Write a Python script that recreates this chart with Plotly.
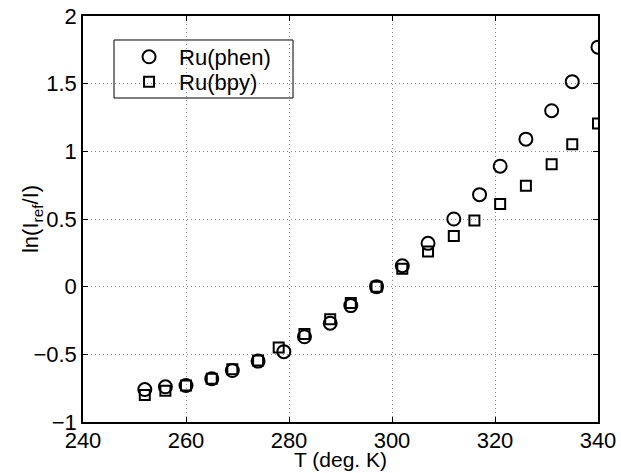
import plotly.graph_objects as go

# Data
T_phen = [252, 256, 260, 265, 269, 274, 279, 283, 288, 292, 297, 302, 307, 312, 317, 321, 326, 331, 335, 340]
ln_phen = [-0.76, -0.74, -0.73, -0.68, -0.62, -0.55, -0.48, -0.37, -0.27, -0.14, 0.0, 0.155, 0.32, 0.50, 0.68, 0.89, 1.09, 1.30, 1.515, 1.77]

T_bpy = [252, 256, 260, 265, 269, 274, 278, 283, 288, 292, 297, 302, 307, 312, 316, 321, 326, 331, 335, 340]
ln_bpy = [-0.80, -0.77, -0.73, -0.68, -0.61, -0.545, -0.45, -0.35, -0.24, -0.12, 0.0, 0.133, 0.26, 0.374, 0.488, 0.61, 0.746, 0.904, 1.052, 1.205]

x_ticks = [240, 260, 280, 300, 320, 340]
y_ticks = [-1, -0.5, 0, 0.5, 1, 1.5, 2]
y_tick_text = ["\u22121", "\u22120.5", "0", "0.5", "1", "1.5", "2"]

FONT = "Liberation Sans, Arial, sans-serif"
FS = 22

fig = go.Figure()
fig.add_trace(go.Scatter(
    x=T_phen, y=ln_phen, mode="markers", name="Ru(phen)", legend="legend",
    marker=dict(symbol="circle-open", size=13, color="black", line=dict(width=2, color="black")),
))
fig.add_trace(go.Scatter(
    x=T_bpy, y=ln_bpy, mode="markers", name="Ru(bpy)", legend="legend2",
    marker=dict(symbol="square-open", size=10, color="black", line=dict(width=2, color="black")),
))

axis_common = dict(
    showline=True, linecolor="black", linewidth=1.5, mirror="ticks",
    ticks="inside", ticklen=5, tickcolor="black", tickwidth=1,
    showgrid=True, gridcolor="#8a8a8a", griddash="1px,3px", gridwidth=1,
    zeroline=False, automargin=False,
    tickfont=dict(family=FONT, size=FS, color="black"),
)

legend_common = dict(
    xanchor="left", yanchor="top",
    bgcolor="rgba(0,0,0,0)", borderwidth=0,
    font=dict(family=FONT, size=FS, color="black"),
    itemwidth=50, tracegroupgap=0,
)

fig.update_layout(
    width=621, height=473,
    margin=dict(l=83, r=23, t=16, b=51),
    paper_bgcolor="white", plot_bgcolor="white",
    font=dict(family=FONT, size=FS, color="black"),
    xaxis=dict(
        range=[240, 340], tickvals=x_ticks, ticktext=[str(v) for v in x_ticks],
        ticklabelstandoff=-2,
        **axis_common,
    ),
    yaxis=dict(
        range=[-1, 2], tickvals=y_ticks, ticktext=y_tick_text,
        **axis_common,
    ),
    legend=dict(x=0.07, y=0.9507, **legend_common),
    legend2=dict(x=0.07, y=0.8892, **legend_common),
    showlegend=True,
    shapes=[dict(
        type="rect", xref="paper", yref="paper",
        x0=0.0602, x1=0.4078, y0=0.798, y1=0.9409,
        line=dict(color="black", width=1), fillcolor="white", layer="between",
    )],
    annotations=[
        dict(
            text="ln(I<sub>ref</sub>/I)", xref="paper", yref="paper",
            x=-0.099, y=0.5, xanchor="center", yanchor="middle",
            textangle=-90, showarrow=False, font=dict(family=FONT, size=FS, color="black"),
        ),
        dict(
            text="T (deg. K)", xref="paper", yref="paper",
            x=0.5, y=-0.1256, xanchor="center", yanchor="bottom",
            showarrow=False, font=dict(family=FONT, size=21, color="black"),
        ),
    ],
)

fig.write_html("out.html")
